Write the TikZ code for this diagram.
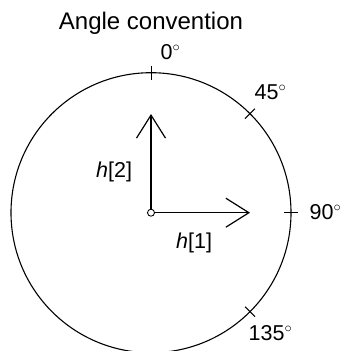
\documentclass[tikz,border=0pt]{standalone}
\usepackage{fontspec}
\setmainfont{Liberation Sans}
\usetikzlibrary{arrows.meta,calc}
\newcommand{\dg}{$^{\circ}$}
\begin{document}
\begin{tikzpicture}[x=1pt,y=-1pt,
  lbl/.style={font=\fontsize{21.5}{25}\selectfont, inner sep=0pt},
  ttl/.style={font=\fontsize{24}{29}\selectfont, inner sep=0pt},
  tick/.style={line width=1pt},
  vec/.style={line width=1.2pt, -{Straight Barb[length=23pt,width=29pt,line width=1.2pt]}}]
\useasboundingbox (0,0) rectangle (342,351);
\coordinate (c) at (151,212.7);
\draw[line width=1.1pt] (c) circle[radius=140];
\node[draw, circle, line width=0.9pt, minimum size=7pt, inner sep=0pt] (o) at (c) {};
% ticks
\foreach \a/\n in {0/t0,45/t45,90/t90,135/t135}{
  \coordinate (\n a) at ($(c)+({\a-90}:133)$);
  \coordinate (\n b) at ($(c)+({\a-90}:147)$);
  \draw[tick] (\n a) -- (\n b);
}
% vectors
\coordinate (h1) at (250,212.7);
\coordinate (h2) at (151,114);
\draw[vec] (o.east) -- (h1);
\draw[vec] (o.north) -- (h2);
% labels
\node[ttl, anchor=base] (title) at (151,29.3) {Angle convention};
\node[lbl, anchor=base west] (l0) at (160.5,59) {0\dg};
\node[lbl, anchor=base west] (l45) at (254.5,99.5) {45\dg};
\node[lbl, anchor=base west] (l90) at (309.5,219.5) {90\dg};
\node[lbl, anchor=base west] (l135) at (248.5,340) {135\dg};
\node[lbl, anchor=base west] (lh2) at (96,177.7) {\textit{h}[2]};
\node[lbl, anchor=base west] (lh1) at (176,248) {\textit{h}[1]};
\end{tikzpicture}
\end{document}
